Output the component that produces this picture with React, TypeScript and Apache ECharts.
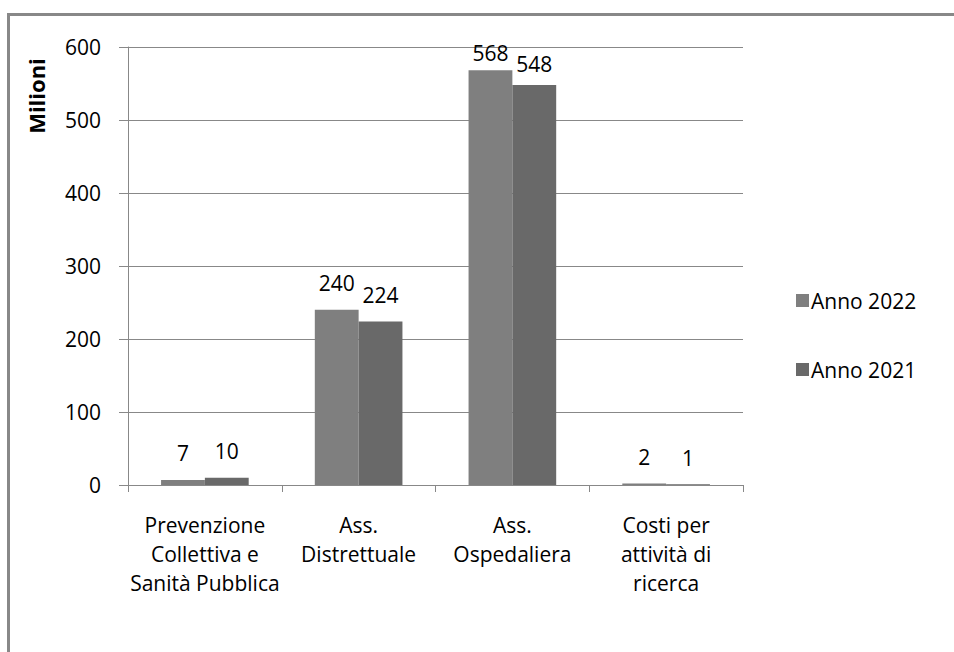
import React, { useEffect, useRef } from "react";
import * as echarts from "echarts";

const categories = [
  "Prevenzione\nCollettiva e\nSanità Pubblica",
  "Ass.\nDistrettuale",
  "Ass.\nOspedaliera",
  "Costi per\nattività di\nricerca",
];
const seriesNames = ["Anno 2022", "Anno 2021"];
const values2022 = [7, 240, 568, 2];
const values2021 = [10, 224, 548, 1];
const yTicks = { min: 0, max: 600, interval: 100 };
const yAxisTitle = "Milioni";

const FONT = "'Open Sans', sans-serif";
const GRAY = "#888888";

// label placement tweaks (styling only): tall bars' labels sit closer to bar top
const labelDistance2022 = [16, 16, 7, 16];
const labelDistance2021 = [16, 16, 10, 16];

function withLabels(values: number[], distances: number[]) {
  return values.map((v, i) => ({ value: v, label: { distance: distances[i] } }));
}

export default function App() {
  const ref = useRef<HTMLDivElement>(null);
  useEffect(() => {
    if (!ref.current) return;
    const chart = echarts.init(ref.current, undefined, { renderer: "svg" });
    const labelCfg = {
      show: true,
      position: "top",
      distance: 16,
      color: "#000",
      fontFamily: FONT,
      fontSize: 21,
    };
    chart.setOption({
      animation: false,
      backgroundColor: "#ffffff",
      textStyle: { fontFamily: FONT },
      grid: { left: 128, right: 211, top: 47, bottom: 167, containLabel: false },
      legend: {
        orient: "vertical",
        left: 791,
        top: 285,
        itemWidth: 13,
        itemHeight: 13,
        itemGap: 48,
        icon: "rect",
        textStyle: { color: "#000", fontSize: 21, fontFamily: FONT, padding: [0, 0, 0, -3] },
        data: seriesNames,
      },
      graphic: [
        {
          type: "rect",
          shape: { x: 8.5, y: 14.5, width: 1000, height: 1000 },
          style: { fill: "none", stroke: GRAY, lineWidth: 3 },
          silent: true,
        },
        {
          type: "text",
          x: 36,
          y: 96,
          rotation: Math.PI / 2,
          style: {
            text: yAxisTitle,
            fontFamily: FONT,
            fontSize: 22,
            fontWeight: "bold",
            fill: "#000",
            align: "center",
            verticalAlign: "middle",
          },
        },
      ],
      xAxis: {
        type: "category",
        data: categories,
        axisLine: { lineStyle: { color: GRAY, width: 1 } },
        axisTick: { show: true, length: 7, lineStyle: { color: GRAY } },
        axisLabel: {
          color: "#000",
          fontSize: 21,
          lineHeight: 29,
          fontFamily: FONT,
          margin: 25,
          interval: 0,
          verticalAlign: "top",
        },
      },
      yAxis: {
        type: "value",
        min: yTicks.min,
        max: yTicks.max,
        interval: yTicks.interval,
        axisLine: { show: true, lineStyle: { color: GRAY, width: 1 } },
        axisTick: { show: true, length: 9, lineStyle: { color: GRAY } },
        splitLine: { lineStyle: { color: GRAY, width: 1 } },
        axisLabel: { color: "#000", fontSize: 21, fontFamily: FONT, margin: 27 },
      },
      series: [
        {
          name: seriesNames[0],
          type: "bar",
          data: withLabels(values2022, labelDistance2022),
          barGap: "0%",
          barCategoryGap: "43%",
          itemStyle: { color: "#7f7f7f" },
          label: labelCfg,
        },
        {
          name: seriesNames[1],
          type: "bar",
          data: withLabels(values2021, labelDistance2021),
          barGap: "0%",
          barCategoryGap: "43%",
          itemStyle: { color: "#696969" },
          label: labelCfg,
        },
      ],
    });
    return () => chart.dispose();
  }, []);
  return (
    <div
      ref={ref}
      style={{ position: "absolute", left: 0, top: 0, width: 954, height: 652, background: "#fff" }}
    />
  );
}
